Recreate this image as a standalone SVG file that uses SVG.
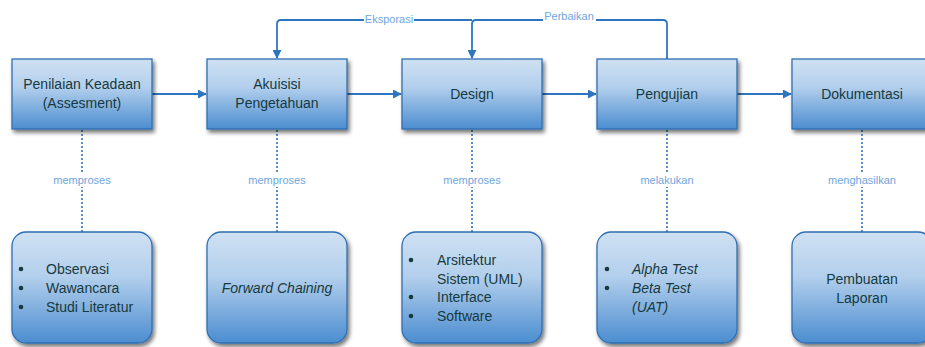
<svg xmlns="http://www.w3.org/2000/svg" width="925" height="347" viewBox="0 0 925 347">
<defs>
<linearGradient id="g" x1="0" y1="0" x2="0" y2="1">
<stop offset="0" stop-color="#cfe1f3"/>
<stop offset="0.4" stop-color="#b3cfec"/>
<stop offset="1" stop-color="#4b8dd0"/>
</linearGradient>
<filter id="sh" x="-10%" y="-10%" width="125%" height="130%">
<feGaussianBlur in="SourceAlpha" stdDeviation="2"/>
<feOffset dx="2" dy="3" result="b"/>
<feComponentTransfer><feFuncA type="linear" slope="0.55"/></feComponentTransfer>
<feMerge><feMergeNode/><feMergeNode in="SourceGraphic"/></feMerge>
</filter>
<marker id="ah" viewBox="0 0 10 10" refX="9" refY="5" markerWidth="9" markerHeight="9" markerUnits="userSpaceOnUse" orient="auto">
<path d="M0,0 L10,5 L0,10 z" fill="#2e75c0"/>
</marker>
</defs>
<style>
.box{fill:url(#g);stroke:#2f6fb3;stroke-width:1.3;filter:url(#sh)}
.t{font-family:"Liberation Sans",Arial,sans-serif;font-size:14px;fill:#163a40}
.i{font-style:italic}
.c{text-anchor:middle}
.lbl{font-family:"Liberation Sans",Arial,sans-serif;font-size:11px;fill:#6ea6e0;text-anchor:middle}
.ln{fill:none;stroke:#2e75c0;stroke-width:1.8}
.dot{fill:none;stroke:#2e75c0;stroke-width:1.6;stroke-dasharray:2,2}
</style>
<g id="connectors">
<line class="ln" x1="152" y1="94" x2="206" y2="94" marker-end="url(#ah)"/>
<line class="ln" x1="347" y1="94" x2="401" y2="94" marker-end="url(#ah)"/>
<line class="ln" x1="542" y1="94" x2="596" y2="94" marker-end="url(#ah)"/>
<line class="ln" x1="737" y1="94" x2="791" y2="94" marker-end="url(#ah)"/>
<path class="ln" d="M472,20 L281,20 Q277,20 277,24 L277,58" marker-end="url(#ah)"/>
<path class="ln" d="M667,59 L667,24 Q667,20 663,20 L476,20 Q472,20 472,24 L472,58" marker-end="url(#ah)"/>
<rect x="364" y="12" width="50" height="14" fill="#fff"/>
<text class="lbl" x="389" y="23">Eksporasi</text>
<rect x="543" y="9" width="53" height="14" fill="#fff"/>
<text class="lbl" x="569" y="20">Perbaikan</text>
<line class="dot" x1="82" y1="130" x2="82" y2="232"/>
<line class="dot" x1="277" y1="130" x2="277" y2="232"/>
<line class="dot" x1="472" y1="130" x2="472" y2="232"/>
<line class="dot" x1="667" y1="130" x2="667" y2="232"/>
<line class="dot" x1="862" y1="130" x2="862" y2="232"/>
<g fill="#fff">
<rect x="48" y="173" width="68" height="14"/>
<rect x="243" y="173" width="68" height="14"/>
<rect x="438" y="173" width="68" height="14"/>
<rect x="636" y="173" width="62" height="14"/>
<rect x="824" y="173" width="76" height="14"/>
</g>
<text class="lbl" x="82" y="184">memproses</text>
<text class="lbl" x="277" y="184">memproses</text>
<text class="lbl" x="472" y="184">memproses</text>
<text class="lbl" x="667" y="184">melakukan</text>
<text class="lbl" x="862" y="184">menghasilkan</text>
</g>
<g id="n1">
<rect class="box" x="12" y="59" width="140" height="70"/>
<text class="t c" x="82" y="89">Penilaian Keadaan</text>
<text class="t c" x="82" y="108">(Assesment)</text>
</g>
<g id="n2">
<rect class="box" x="207" y="59" width="140" height="70"/>
<text class="t c" x="277" y="89">Akuisisi</text>
<text class="t c" x="277" y="108">Pengetahuan</text>
</g>
<g id="n3">
<rect class="box" x="402" y="59" width="140" height="70"/>
<text class="t c" x="472" y="99">Design</text>
</g>
<g id="n4">
<rect class="box" x="597" y="59" width="140" height="70"/>
<text class="t c" x="667" y="99">Pengujian</text>
</g>
<g id="n5">
<rect class="box" x="792" y="59" width="140" height="70"/>
<text class="t c" x="862" y="99">Dokumentasi</text>
</g>
<g id="b1">
<rect class="box" x="12" y="232" width="140" height="111" rx="14"/>
<g class="t">
<circle cx="21" cy="269" r="2.3" fill="#163a40"/><text x="46" y="274">Observasi</text>
<circle cx="21" cy="288" r="2.3" fill="#163a40"/><text x="46" y="293">Wawancara</text>
<circle cx="21" cy="307" r="2.3" fill="#163a40"/><text x="46" y="312">Studi Literatur</text>
</g>
</g>
<g id="b2">
<rect class="box" x="207" y="232" width="140" height="111" rx="14"/>
<text class="t c i" x="277" y="293">Forward Chaining</text>
</g>
<g id="b3">
<rect class="box" x="402" y="232" width="140" height="111" rx="14"/>
<g class="t">
<circle cx="411" cy="260" r="2.3" fill="#163a40"/><text x="437" y="265">Arsitektur</text>
<text x="437" y="284">Sistem (UML)</text>
<circle cx="411" cy="297" r="2.3" fill="#163a40"/><text x="437" y="302">Interface</text>
<circle cx="411" cy="316" r="2.3" fill="#163a40"/><text x="437" y="321">Software</text>
</g>
</g>
<g id="b4">
<rect class="box" x="597" y="232" width="140" height="111" rx="14"/>
<g class="t">
<circle cx="607" cy="269" r="2.3" fill="#163a40"/><text class="i" x="632" y="274">Alpha Test</text>
<circle cx="607" cy="288" r="2.3" fill="#163a40"/><text class="i" x="632" y="293">Beta Test</text>
<text class="i" x="632" y="312">(UAT)</text>
</g>
</g>
<g id="b5">
<rect class="box" x="792" y="232" width="140" height="111" rx="14"/>
<text class="t c" x="862" y="284">Pembuatan</text>
<text class="t c" x="862" y="303">Laporan</text>
</g>
</svg>
